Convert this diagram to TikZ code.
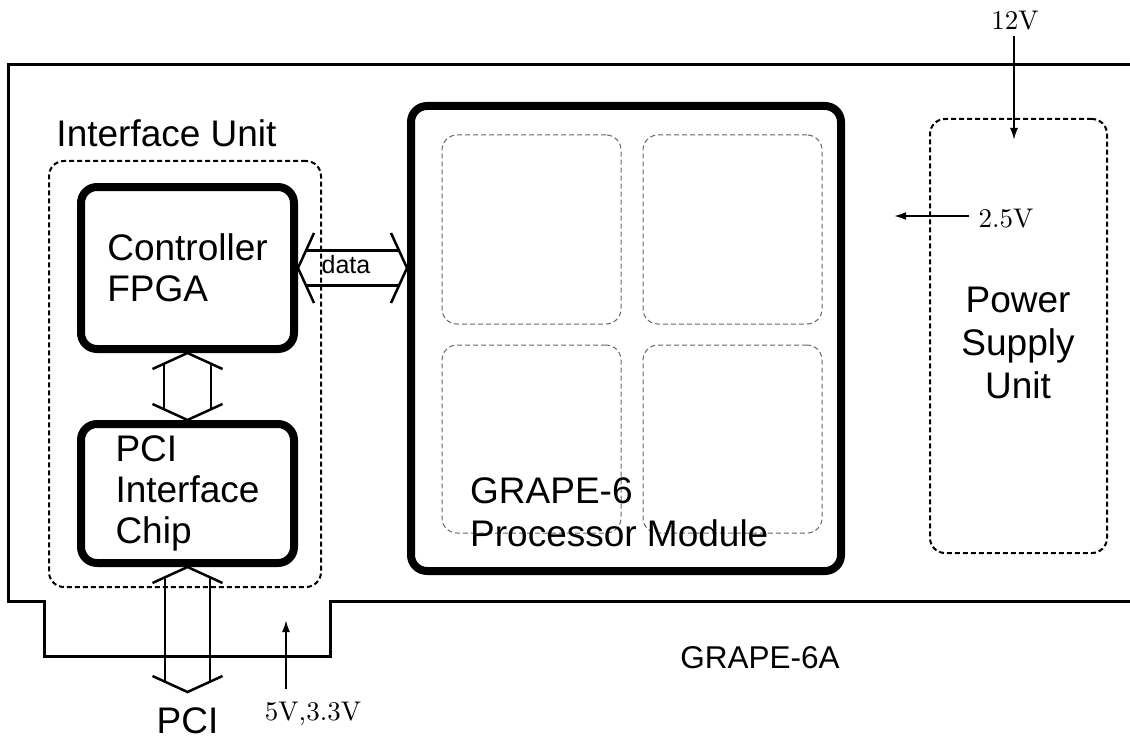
\documentclass[tikz,border=0pt]{standalone}
\usepackage{fontspec}
\newfontfamily\arial{Liberation Sans}
\newfontfamily\voltfont{lmroman10-regular.otf}
\usetikzlibrary{calc,arrows.meta,positioning}
\definecolor{modgray}{gray}{0.4}

\tikzset{
  board/.style={line width=3pt},
  chip/.style={draw, line width=8pt, rounded corners=16pt, inner sep=0pt, align=left,
    font=\arial\fontsize{37}{41}\selectfont},
  unit/.style={draw, line width=2pt, dash pattern=on 5pt off 3pt, rounded corners=15pt},
  subunit/.style={draw=modgray, line width=1pt, dash pattern=on 5pt off 3pt, rounded corners=15pt},
  bus/.style={line width=2.5pt},
  power/.style={line width=2pt, -{Latex[length=12pt,width=8pt]}},
  sanstext/.style={font=\arial\fontsize{37}{43}\selectfont, inner sep=0pt},
  volt/.style={font=\voltfont\fontsize{27}{30}\selectfont, inner sep=0pt},
}

% wide double-headed bus: #1 from, #2 to, #3 half width of shaft, #4 shaft start
\newcommand{\busarrow}[4]{%
  \draw[bus] ($(#1)!16pt!(#2)!35pt!90:(#2)$) -- (#1) -- ($(#1)!16pt!(#2)!35pt!-90:(#2)$);
  \draw[bus] ($(#2)!16pt!(#1)!35pt!90:(#1)$) -- (#2) -- ($(#2)!16pt!(#1)!35pt!-90:(#1)$);
  \draw[bus] ($(#1)!#4!(#2)!#3!90:(#2)$) -- ($(#2)!#4!(#1)!#3!-90:(#1)$);
  \draw[bus] ($(#1)!#4!(#2)!#3!-90:(#2)$) -- ($(#2)!#4!(#1)!#3!90:(#1)$);
}

\begin{document}
\begin{tikzpicture}[x=1pt,y=-1pt]
  \useasboundingbox (0,0) rectangle (1130,741);

  % board outline
  \draw[board] (1130,65) -- (8,65) -- (8,601) -- (44,601) -- (44,656)
    -- (330,656) -- (330,601) -- (1130,601);
  \node[sanstext, font=\arial\fontsize{31.5}{36}\selectfont, anchor=base] (boardlbl) at (760,668) {GRAPE-6A};

  % interface unit
  \node[unit, minimum width=272, minimum height=426] (iface) at (185,374) {};
  \node[sanstext, anchor=base] (ifacelbl) at (166.5,147) {Interface Unit};
  \node[chip, minimum width=213, minimum height=162] (ctrl) at (187.5,268) {Controller\\FPGA};
  \node[chip, minimum width=213, minimum height=139] (pci) at (187.5,493.5) {PCI\\Interface\\Chip};

  % processor module
  \node[chip, minimum width=430, minimum height=465] (grape) at (626,338.5) {};
  \node[subunit, minimum width=179, minimum height=189] (chipa) at (531.5,229.5) {};
  \node[subunit, minimum width=179, minimum height=189] (chipb) at (732.5,229.5) {};
  \node[subunit, minimum width=179, minimum height=188] (chipc) at (531.5,439) {};
  \node[subunit, minimum width=179, minimum height=188] (chipd) at (732.5,439) {};
  \node[sanstext, align=left, anchor=north west] (grapelbl) at (470,477) {GRAPE-6\\Processor Module};

  % power supply
  \node[unit, minimum width=177, minimum height=434] (psu) at (1018.5,336) {};
  \node[sanstext, align=center] (psulbl) at (1018,343) {Power\\Supply\\Unit};

  % buses
  \coordinate (grapein) at (grape.west |- ctrl.east);
  \busarrow{ctrl.east}{grapein}{17.5pt}{8pt}
  \node[sanstext, font=\arial\fontsize{25}{28}\selectfont] (datalbl) at (346,265) {data};
  \busarrow{ctrl.south}{pci.north}{23.5pt}{11pt}
  \coordinate (pcibus) at (187.5,692);
  \busarrow{pci.south}{pcibus}{22.5pt}{10pt}
  \node[sanstext, anchor=base] (pcilbl) at (187.5,733) {PCI};

  % power lines
  \node[volt, anchor=base] (v12) at (1015,30) {12V};
  \coordinate (v12tip) at (1014,140);
  \draw[power] ([yshift=-5pt]v12.south -| v12tip) -- (v12tip);
  \node[volt, anchor=base] (v25) at (1006,227) {2.5V};
  \coordinate (v25tip) at (894,216);
  \draw[power] ([xshift=-9pt]v25.west |- v25tip) -- (v25tip);
  \node[volt, anchor=base] (v5) at (313,720) {5V,3.3V};
  \coordinate (v5tip) at (286,620);
  \draw[power] ([yshift=12pt]v5.north -| v5tip) -- (v5tip);
\end{tikzpicture}
\end{document}
